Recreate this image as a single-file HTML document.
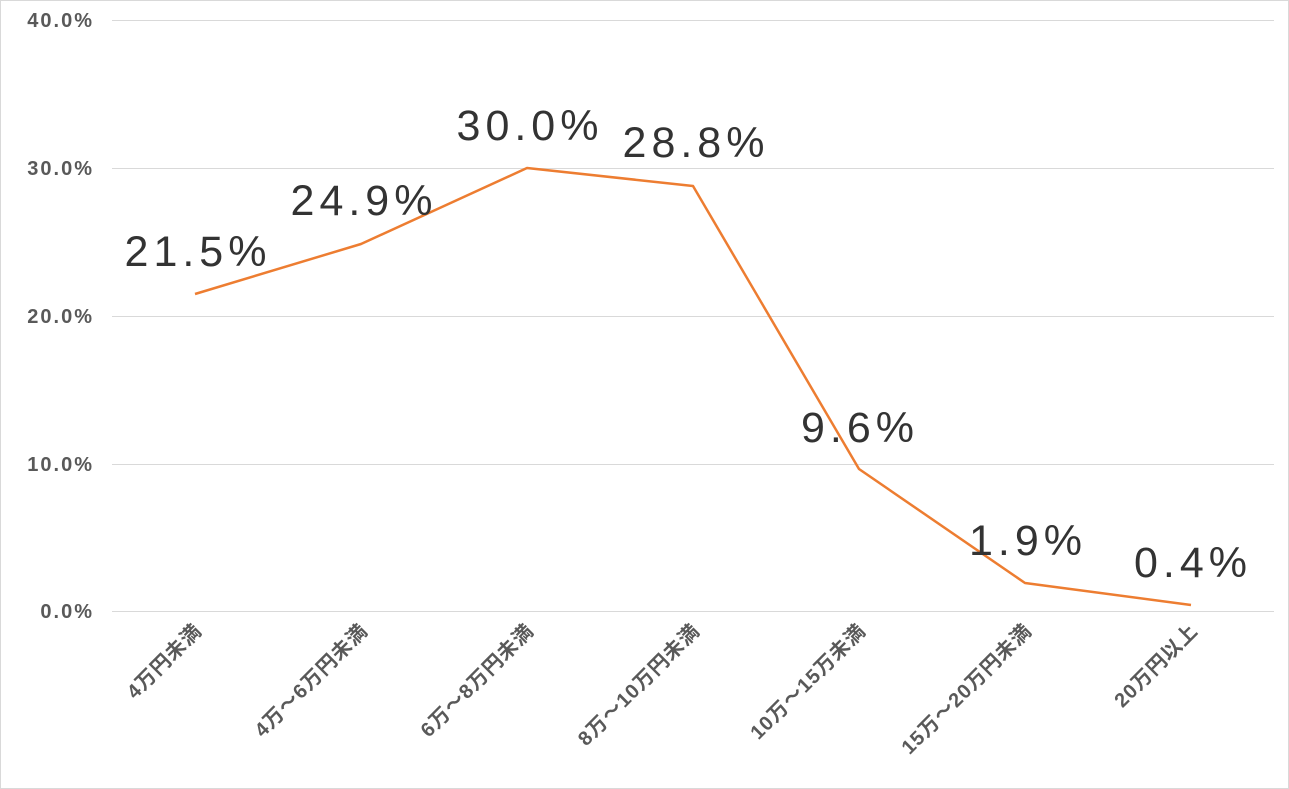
<!DOCTYPE html>
<html><head><meta charset="utf-8"><style>
html,body{margin:0;padding:0;background:#fff;}
svg{display:block;}
</style></head><body>
<svg width="1289" height="789" xmlns="http://www.w3.org/2000/svg" font-family="'Liberation Sans','Noto Sans CJK JP',sans-serif">
<rect x="0.5" y="0.5" width="1288" height="788" fill="#fff" stroke="#d9d9d9"/>
<g stroke="#d9d9d9" stroke-width="1">
<line x1="112" y1="20.5" x2="1274" y2="20.5"/>
<line x1="112" y1="168.5" x2="1274" y2="168.5"/>
<line x1="112" y1="316.5" x2="1274" y2="316.5"/>
<line x1="112" y1="464.5" x2="1274" y2="464.5"/>
<line x1="112" y1="611.5" x2="1274" y2="611.5"/>
</g>
<g fill="#595959" font-size="20" font-weight="bold" letter-spacing="2" text-anchor="end">
<text x="94" y="27">40.0%</text>
<text x="94" y="175">30.0%</text>
<text x="94" y="323">20.0%</text>
<text x="94" y="471">10.0%</text>
<text x="94" y="618">0.0%</text>
</g>
<polyline fill="none" stroke="#ed7d31" stroke-width="2.5" stroke-linejoin="round" points="195,294 361,244 527,168 693,186 859,469 1025,583 1191,605"/>
<g fill="#333" font-size="43" letter-spacing="5" text-anchor="middle">
<text x="198" y="266">21.5%</text>
<text x="364" y="215">24.9%</text>
<text x="530" y="140">30.0%</text>
<text x="696" y="157">28.8%</text>
<text x="860" y="442">9.6%</text>
<text x="1028" y="555">1.9%</text>
<text x="1193" y="577">0.4%</text>
</g>
<g fill="#595959" font-size="20" font-weight="bold" letter-spacing="1" text-anchor="end">
<text transform="translate(203,632) rotate(-45)">4万円未満</text>
<text transform="translate(369,632) rotate(-45)">4万～6万円未満</text>
<text transform="translate(535,632) rotate(-45)">6万～8万円未満</text>
<text transform="translate(701,632) rotate(-45)">8万～10万円未満</text>
<text transform="translate(867,632) rotate(-45)">10万～15万未満</text>
<text transform="translate(1033,632) rotate(-45)">15万～20万円未満</text>
<text transform="translate(1199,632) rotate(-45)">20万円以上</text>
</g>
</svg>
</body></html>
